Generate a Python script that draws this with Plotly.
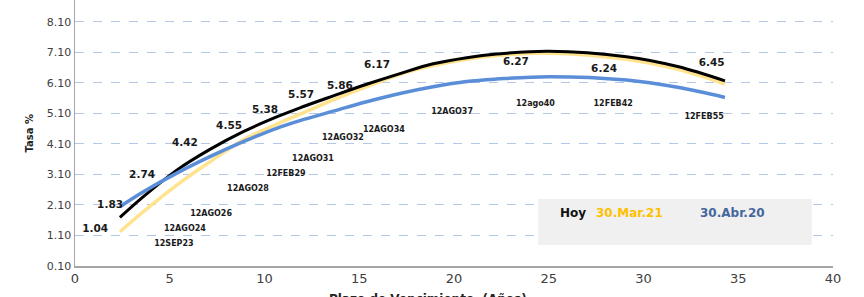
import plotly.graph_objects as go

# ---- data ----
hoy_x = [2.37, 3.61, 5.37, 7.12, 8.88, 10.64, 11.87, 13.63, 15.39, 17.15, 18.9, 20.67, 22.25, 25.0, 29.1, 31.8, 34.3]
hoy_y = [1.69, 2.37, 3.24, 3.92, 4.50, 4.98, 5.28, 5.67, 6.05, 6.40, 6.72, 6.92, 7.04, 7.13, 6.95, 6.63, 6.16]

mar21_x = [2.37, 3.61, 5.37, 7.12, 8.88, 10.64, 11.87, 13.63, 15.39, 17.15, 18.9, 20.67, 22.25, 25.0, 29.1, 31.8, 34.3]
mar21_y = [1.22, 1.88, 2.75, 3.51, 4.23, 4.74, 5.07, 5.54, 5.97, 6.38, 6.66, 6.87, 6.99, 7.07, 6.87, 6.54, 6.06]

abr20_x = [2.37, 3.61, 5.37, 7.12, 8.88, 10.64, 11.87, 13.63, 15.39, 17.15, 18.9, 20.67, 22.25, 25.0, 29.1, 31.8, 34.3]
abr20_y = [2.04, 2.53, 3.14, 3.68, 4.17, 4.61, 4.86, 5.17, 5.48, 5.75, 5.97, 6.14, 6.22, 6.30, 6.19, 5.95, 5.62]

value_labels = ["1.04", "1.83", "2.74", "4.42", "4.55", "5.38", "5.57", "5.86", "6.17", "6.27", "6.24", "6.45"]
value_label_x = [1.06, 1.85, 3.54, 5.80, 8.13, 10.03, 11.93, 13.98, 15.94, 23.27, 27.92, 33.60]
value_label_y = [1.31, 2.10, 3.08, 4.13, 4.68, 5.21, 5.70, 5.99, 6.68, 6.78, 6.55, 6.75]

bond_labels = ["12SEP23", "12AGO24", "12AGO26", "12AGO28", "12FEB29", "12AGO31", "12AGO32",
               "12AGO34", "12AGO37", "12ago40", "12FEB42", "12FEB55"]
bond_label_x = [5.22, 5.80, 7.18, 9.13, 11.13, 12.56, 14.14, 16.30, 19.90, 24.30, 28.40, 33.20]
bond_label_y = [0.82, 1.31, 1.80, 2.62, 3.11, 3.60, 4.29, 4.55, 5.14, 5.40, 5.40, 4.98]

series_names = ["Hoy", "30.Mar.21", "30.Abr.20"]
x_ticks = [0, 5, 10, 15, 20, 25, 30, 35, 40]
y_ticks = [0.10, 1.10, 2.10, 3.10, 4.10, 5.10, 6.10, 7.10, 8.10]

BOLD = "DejaVu Sans"

fig = go.Figure()
fig.add_trace(go.Scatter(x=mar21_x, y=mar21_y, mode="lines", line=dict(color="#FFE38F", width=3.5, shape="spline", smoothing=1.0), name=series_names[1], hoverinfo="skip"))
fig.add_trace(go.Scatter(x=hoy_x, y=hoy_y, mode="lines", line=dict(color="#000000", width=3, shape="spline", smoothing=1.0), name=series_names[0], hoverinfo="skip"))
fig.add_trace(go.Scatter(x=abr20_x, y=abr20_y, mode="lines", line=dict(color="#5B8ED8", width=3.5, shape="spline", smoothing=1.0), name=series_names[2], hoverinfo="skip"))

fig.add_trace(go.Scatter(x=value_label_x, y=value_label_y, mode="text", text=value_labels,
                         textfont=dict(family=BOLD, size=10.5, color="#1a1a1a", weight="bold"), hoverinfo="skip"))
fig.add_trace(go.Scatter(x=bond_label_x, y=bond_label_y, mode="text", text=bond_labels,
                         textfont=dict(family=BOLD, size=8, color="#1a1a1a", weight="bold"), hoverinfo="skip"))

# legend box
fig.add_shape(type="rect", xref="paper", yref="paper", x0=0.611, x1=0.972, y0=0.079, y1=0.252,
              fillcolor="#F0F0F0", line=dict(width=0), layer="above")
legend_colors = ["#111111", "#FFC000", "#44689E"]
legend_x = [0.657, 0.779, 0.913]
for name, c, lx in zip(series_names, legend_colors, legend_x):
    fig.add_annotation(x=lx, y=0.165, xref="paper", yref="paper", text=name, showarrow=False,
                       font=dict(family=BOLD, size=12, color=c, weight="bold"))

fig.add_annotation(x=-0.07, y=0.5, xref="paper", yref="paper", text="Tasa %", textangle=-90,
                   showarrow=False, font=dict(family=BOLD, size=10, color="#222222", weight="bold"))
fig.add_annotation(x=0.466, y=-0.09, xref="paper", yref="paper", yanchor="top",
                   text="Plazo de Vencimiento  (Años)", showarrow=False,
                   font=dict(family=BOLD, size=12, color="#222222", weight="bold"))

fig.update_layout(
    width=864, height=297,
    margin=dict(l=75, r=31, t=0, b=31),
    paper_bgcolor="white", plot_bgcolor="white",
    showlegend=False,
    xaxis=dict(range=[0, 40], tickvals=x_ticks, showgrid=False, zeroline=False,
               showline=True, linecolor="#A6A6A6", linewidth=1.5,
               tickfont=dict(family="DejaVu Sans", size=13, color="#404040"), ticks="", fixedrange=True),
    yaxis=dict(range=[0.1, 8.81], tickvals=y_ticks, tickformat=".2f", showgrid=True,
               gridcolor="#B4C7E7", griddash="dash", gridwidth=1, zeroline=False,
               showline=True, linecolor="#A6A6A6", linewidth=1.5,
               tickfont=dict(family="DejaVu Sans", size=11, color="#404040"), ticks="", fixedrange=True),
)

fig.write_html("out.html", config={"displayModeBar": False, "staticPlot": True},
               post_script="document.body.style.margin='0';document.body.style.overflow='hidden';")
